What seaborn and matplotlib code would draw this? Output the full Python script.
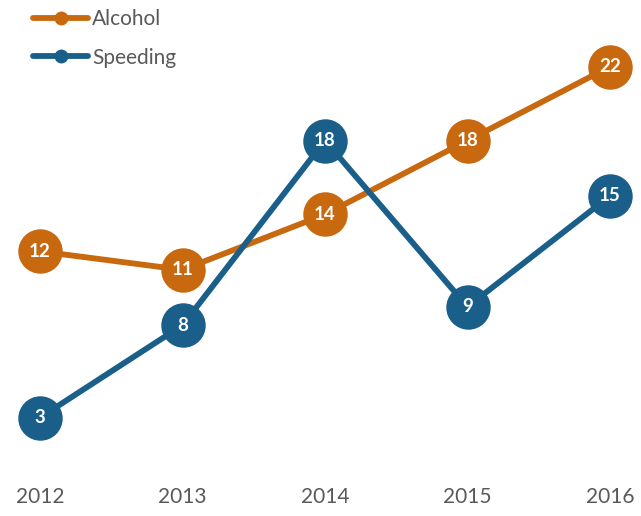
import matplotlib
matplotlib.use("Agg")
import matplotlib.pyplot as plt
from matplotlib.lines import Line2D
import seaborn as sns
import pandas as pd

years = ["2012", "2013", "2014", "2015", "2016"]
alcohol = [12, 11, 14, 18, 22]
speeding = [3, 8, 18, 9, 15]
series_names = ["Alcohol", "Speeding"]
colors = {"Alcohol": "#C8690F", "Speeding": "#1A5F8A"}

sns.set_theme(style="white")
plt.rcParams["font.family"] = ["Lato", "DejaVu Sans"]

df = pd.DataFrame({
    "x": list(range(len(years))) * 2,
    "value": alcohol + speeding,
    "series": ["Alcohol"] * len(years) + ["Speeding"] * len(years),
})

fig = plt.figure(figsize=(6.41, 5.16), dpi=100)
ax = fig.add_axes([0, 0, 1, 1])

sns.lineplot(data=df, x="x", y="value", hue="series", palette=colors,
             marker="o", markersize=32, linewidth=4.2, markeredgewidth=0,
             legend=False, ax=ax, sort=False)

for name, vals in zip(series_names, [alcohol, speeding]):
    for i, v in enumerate(vals):
        ax.text(i, v, str(v), ha="center", va="center", color="white",
                fontsize=13.5, fontweight="bold", zorder=5)

# pixel-based limits: x in [0, 641], y in [0, 516]
ax.set_xlim(-40 / 142.5, (641 - 40) / 142.5)
ax.set_ylim((473 - 516) / 18.47, 473 / 18.47)
ax.axis("off")

for i, lab in enumerate(years):
    ax.text(i, (473 - 497) / 18.47, lab, ha="center", va="center",
            fontsize=15, color="#595959")

handles = [Line2D([0], [0], color=colors[n], lw=4.2, marker="o", markersize=9)
           for n in series_names]
leg = fig.legend(handles, series_names, loc="upper left",
                 bbox_to_anchor=(33 / 641, 1 - 9 / 516), frameon=False,
                 fontsize=15, borderpad=0, borderaxespad=0,
                 handlelength=2.64, handletextpad=0.2, labelspacing=0.9,
                 labelcolor="#595959")

fig.savefig("out.png", dpi=100)
